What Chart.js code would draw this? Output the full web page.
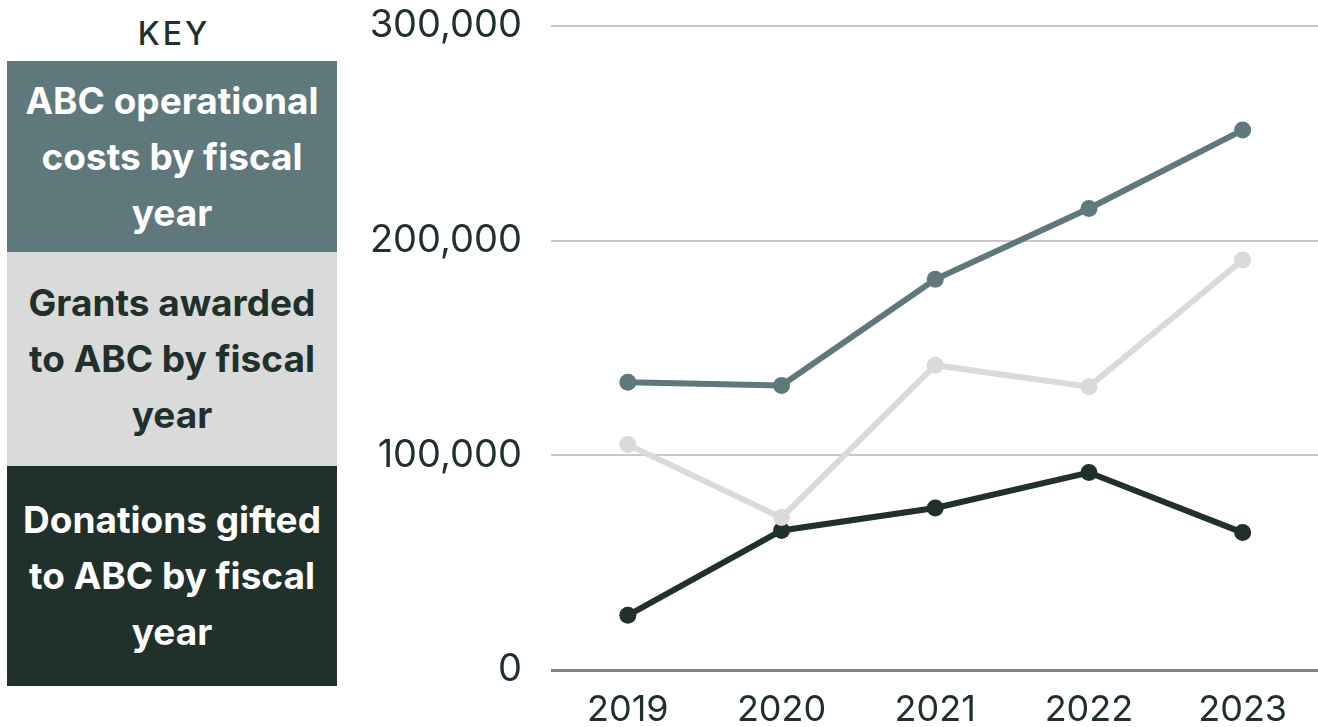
<!DOCTYPE html>
<html>
<head>
<meta charset="utf-8">
<script src="https://cdn.jsdelivr.net/npm/chart.js@4"></script>
<style>
  html, body { margin: 0; padding: 0; background: #fff; }
  body { width: 1318px; height: 727px; position: relative; overflow: hidden; font-family: "Inter", sans-serif; }
  #key { position: absolute; left: 9px; top: 14px; width: 330px; text-align: center; font-size: 32px; font-weight: 500; letter-spacing: 3px; color: #20312b; }
  .box { position: absolute; left: 7px; width: 330px; display: flex; align-items: center; justify-content: center; text-align: center; font-size: 37px; font-weight: 700; line-height: 56px; }
  #wrap { position: absolute; left: 340px; top: 0; width: 988px; height: 727px; }
</style>
</head>
<body>
<div id="key">KEY</div>
<div class="box" style="top:61px;height:191px;background:#5f787b;color:#fff;">ABC operational<br>costs by fiscal<br>year</div>
<div class="box" style="top:252px;height:214px;background:#dadada;color:#20312b;">Grants awarded<br>to ABC by fiscal<br>year</div>
<div class="box" style="top:466px;height:220px;background:#20312b;color:#fff;">Donations gifted<br>to ABC by fiscal<br>year</div>
<div id="wrap"><canvas id="chart"></canvas></div>
<script>
const years = ["2019", "2020", "2021", "2022", "2023"];
const operationalCosts = [134000, 132500, 182000, 215000, 251500];
const grantsAwarded = [105000, 71000, 142000, 132000, 191000];
const donationsGifted = [25500, 65000, 75500, 92000, 64000];
const yTicks = [0, 100000, 200000, 300000];

const textColor = "#20312b";

new Chart(document.getElementById("chart"), {
  type: "line",
  data: {
    labels: years,
    datasets: [
      { label: "ABC operational costs by fiscal year", data: operationalCosts, borderColor: "#5f787b", backgroundColor: "#5f787b" },
      { label: "Grants awarded to ABC by fiscal year", data: grantsAwarded, borderColor: "#dadada", backgroundColor: "#dadada" },
      { label: "Donations gifted to ABC by fiscal year", data: donationsGifted, borderColor: "#20312b", backgroundColor: "#20312b" },
    ],
  },
  options: {
    responsive: true,
    maintainAspectRatio: false,
    animation: false,
    layout: { padding: { top: 26, right: 0, bottom: 0, left: 0 } },
    elements: {
      line: { borderWidth: 6, tension: 0 },
      point: { radius: 8.5, hoverRadius: 8.5, borderWidth: 0 },
    },
    plugins: { legend: { display: false }, tooltip: { enabled: false } },
    scales: {
      x: {
        offset: true,
        grid: { display: false },
        border: { display: false },
        ticks: { color: textColor, font: { family: "Inter", size: 36 }, padding: 11 },
        afterFit: (axis) => { axis.height = 57; },
      },
      y: {
        min: 0,
        max: 300000,
        afterBuildTicks: (axis) => { axis.ticks = yTicks.map((v) => ({ value: v })); },
        grid: {
          drawTicks: false,
          lineWidth: (ctx) => (ctx.tick && ctx.tick.value === 0 ? 3 : 2),
          color: (ctx) => (ctx.tick && ctx.tick.value === 0 ? "#7b8782" : "#c8cac8"),
        },
        border: { display: false },
        ticks: {
          color: textColor,
          font: { family: "Inter", size: 38 },
          padding: 29,
          callback: (v) => v.toLocaleString("en-US"),
        },
        afterFit: (axis) => {
          axis.width = 211;
          axis.paddingTop = 0;
          axis.paddingBottom = 0;
        },
      },
    },
  },
});
</script>
</body>
</html>
